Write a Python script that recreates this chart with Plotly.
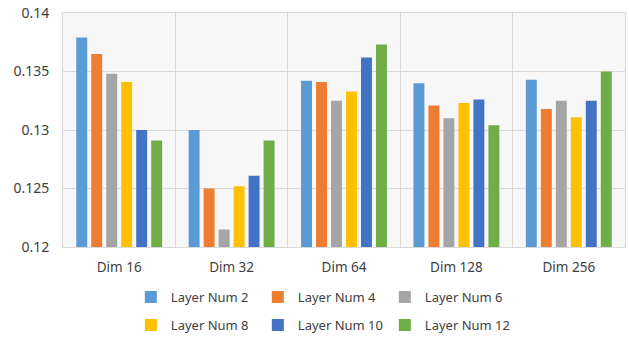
import plotly.graph_objects as go

# Embedding dimension groups on the x axis
categories = ["Dim 16", "Dim 32", "Dim 64", "Dim 128", "Dim 256"]

# Metric per layer count, one list per series
layer_2 = [0.1379, 0.1300, 0.1342, 0.1340, 0.1343]
layer_4 = [0.1365, 0.1250, 0.1341, 0.1321, 0.1318]
layer_6 = [0.1348, 0.1215, 0.1325, 0.1310, 0.1325]
layer_8 = [0.1341, 0.1252, 0.1333, 0.1323, 0.1311]
layer_10 = [0.1300, 0.1261, 0.1362, 0.1326, 0.1325]
layer_12 = [0.1291, 0.1291, 0.1373, 0.1304, 0.1350]

series_names = ["Layer Num 2", "Layer Num 4", "Layer Num 6",
                "Layer Num 8", "Layer Num 10", "Layer Num 12"]
series_values = [layer_2, layer_4, layer_6, layer_8, layer_10, layer_12]
colors = ["#5B9BD5", "#ED7D31", "#A5A5A5", "#FFC000", "#4472C4", "#70AD47"]

y_ticks = [0.12, 0.125, 0.13, 0.135, 0.14]
y_tick_text = ["0.12", "0.125", "0.13", "0.135", "0.14"]

fig = go.Figure()
for i, (name, vals, col) in enumerate(zip(series_names, series_values, colors)):
    fig.add_trace(go.Bar(
        x=categories, y=vals, name=name,
        marker=dict(color=col, line=dict(width=0)),
        legend="legend" if i < 3 else "legend2",
    ))

# Two single-row legends, three entries each
legend_common = dict(
    orientation="h", xref="container", yref="container",
    xanchor="left", yanchor="middle",
    font=dict(family="Noto Sans", size=13, color="#404040"),
    bgcolor="rgba(0,0,0,0)", entrywidth=82, entrywidthmode="pixels",
    itemwidth=30, tracegroupgap=0,
)

fig.update_layout(
    width=629, height=339,
    margin=dict(l=63, r=4, t=13, b=92, autoexpand=False),
    paper_bgcolor="white",
    plot_bgcolor="#f7f7f7",
    barmode="group",
    bargap=0.2,
    bargroupgap=0.27,
    font=dict(family="Noto Sans", color="#404040"),
    legend=dict(x=0.208, y=0.124, **legend_common),
    legend2=dict(x=0.208, y=0.041, **legend_common),
    xaxis=dict(
        tickson="boundaries", showgrid=True, gridcolor="#d9d9d9", gridwidth=1,
        ticks="", ticklabelstandoff=8,
        tickfont=dict(size=13.5, color="#404040"),
        showline=True, linecolor="#d9d9d9", mirror=True,
    ),
    yaxis=dict(
        range=[0.12, 0.14], tickvals=y_ticks, ticktext=y_tick_text,
        showgrid=True, gridcolor="#d9d9d9", gridwidth=1,
        ticks="", ticklabelstandoff=10,
        tickfont=dict(size=14, color="#404040"),
        showline=True, linecolor="#d9d9d9", mirror=True, zeroline=False,
    ),
)

fig.write_html("out.html")
